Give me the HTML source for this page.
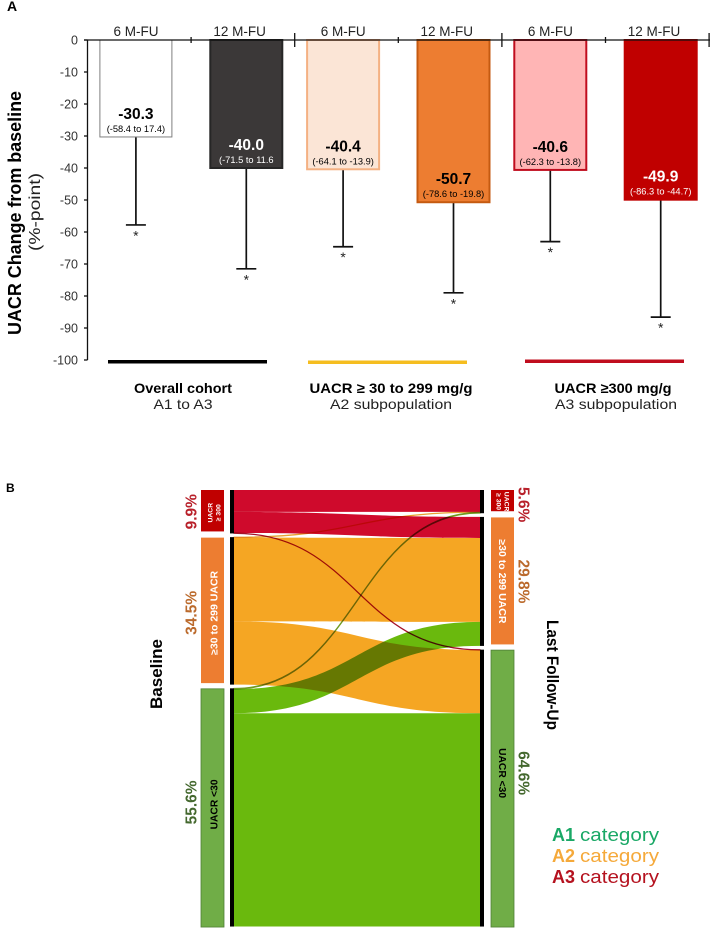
<!DOCTYPE html>
<html lang="en">
<head>
<meta charset="utf-8">
<title>UACR change chart</title>
<style>
html,body{margin:0;padding:0;background:#fff;width:710px;height:934px;overflow:hidden}
svg{display:block;font-family:"Liberation Sans","DejaVu Sans",sans-serif}
.tick-label{font-size:12.5px;fill:#333;text-anchor:end}
.group-label{font-size:13.5px;fill:#222;text-anchor:middle}
.axis{stroke:#111;stroke-width:1.3;fill:none}
.err{stroke:#111;stroke-width:1.7;fill:none}
.star{font-size:14px;fill:#222;text-anchor:middle}
.val{font-size:15.5px;font-weight:bold;text-anchor:middle}
.rng{font-size:9.3px;text-anchor:middle}
.dark{fill:#000}.light{fill:#fff}
.b0{fill:#fff;stroke:#7f7f7f;stroke-width:1}
.b1{fill:#3b3838;stroke:#262626;stroke-width:2}
.b2{fill:#fbe5d6;stroke:#f4b183;stroke-width:2}
.b3{fill:#ed7d31;stroke:#c55a11;stroke-width:2}
.b4{fill:#ffb5b5;stroke:#c00d1e;stroke-width:2}
.b5{fill:#c00000;stroke:#c00000;stroke-width:2}
.flow{mix-blend-mode:multiply}
.c0{fill:#cf0a2c;stroke:#a5122a}
.c1{fill:#f5a623;stroke:#e8a030}
.c2{fill:#6ab90d;stroke:#6f9a20}
.box0{fill:#c00000}.box1{fill:#ed7d31}.box2{fill:#70ad47;stroke:#4f7f35;stroke-width:.8}
.pct{font-size:15.5px;font-weight:bold;text-anchor:middle}
.p0{fill:#b8202a}.p1{fill:#bb6a2c}.p2{fill:#44682e}
.boxt{font-weight:bold;text-anchor:middle}
.big{font-weight:bold;fill:#000;text-anchor:middle}
.sub{fill:#222;text-anchor:middle}
.leg{font-size:18px}
</style>
</head>
<body>
<svg id="fig" width="710" height="934" viewBox="0 0 710 934" xmlns="http://www.w3.org/2000/svg">
  <rect width="710" height="934" fill="#fff"/>
  <text x="7" y="11" font-size="14" font-weight="bold">A</text>
  <text x="6" y="492" font-size="12" font-weight="bold">B</text>

  <text class="big" transform="translate(21,213) rotate(-90)" font-size="18" textLength="244" lengthAdjust="spacingAndGlyphs">UACR Change from baseline</text>
  <text class="sub" transform="translate(40,212) rotate(-90)" font-size="16" textLength="78" lengthAdjust="spacingAndGlyphs">(%-point)</text>

  <g id="barChart"></g>

  <rect x="108" y="360" width="159" height="3.5" fill="#000"/>
  <rect x="308" y="360.5" width="159" height="3.5" fill="#f5bd1f"/>
  <rect x="525" y="359.5" width="159" height="3.5" fill="#c00d1e"/>

  <text class="big" x="183" y="393" font-size="14" textLength="98" lengthAdjust="spacingAndGlyphs">Overall cohort</text>
  <text class="sub" x="183" y="409" font-size="14" textLength="59" lengthAdjust="spacingAndGlyphs">A1 to A3</text>
  <text class="big" x="391" y="393" font-size="14" textLength="163" lengthAdjust="spacingAndGlyphs">UACR ≥ 30  to 299 mg/g</text>
  <text class="sub" x="391" y="409" font-size="14" textLength="122" lengthAdjust="spacingAndGlyphs">A2 subpopulation</text>
  <text class="big" x="613" y="393" font-size="14" textLength="117" lengthAdjust="spacingAndGlyphs">UACR ≥300 mg/g</text>
  <text class="sub" x="616" y="409" font-size="14" textLength="122" lengthAdjust="spacingAndGlyphs">A3 subpopulation</text>

  <g id="sankey" style="isolation:isolate"></g>

  <text class="big" transform="translate(162,674) rotate(-90)" font-size="16.5" textLength="70" lengthAdjust="spacingAndGlyphs">Baseline</text>
  <text class="big" transform="translate(547,675) rotate(90)" font-size="16.5" textLength="110" lengthAdjust="spacingAndGlyphs">Last Follow-Up</text>

  <g class="leg">
    <text x="552" y="841" fill="#1aa866"><tspan font-weight="bold">A1</tspan><tspan x="580" textLength="79" lengthAdjust="spacingAndGlyphs">category</tspan></text>
    <text x="552" y="862" fill="#f5a93a"><tspan font-weight="bold">A2</tspan><tspan x="580" textLength="79" lengthAdjust="spacingAndGlyphs">category</tspan></text>
    <text x="552" y="883" fill="#b5121f"><tspan font-weight="bold">A3</tspan><tspan x="580" textLength="79" lengthAdjust="spacingAndGlyphs">category</tspan></text>
  </g>
</svg>
<script>
/* ---------- Panel A data ---------- */
var barCategories = ['6 M-FU','12 M-FU','6 M-FU','12 M-FU','6 M-FU','12 M-FU'];
var barValues = [-30.3,-40.0,-40.4,-50.7,-40.6,-49.9];
var errorEnds = [-57.8,-71.5,-64.6,-79,-63,-86.6];
var rangeLabels = ['(-58.4 to 17.4)','(-71.5 to 11.6','(-64.1 to -13.9)','(-78.6 to -19.8)','(-62.3 to -13.8)','(-86.3 to -44.7)'];
var yTicks = [0,-10,-20,-30,-40,-50,-60,-70,-80,-90,-100];
/* ---------- Panel B data (order: A3, A2, A1) ---------- */
var flowValues = [[5.1,4.9,0.1],[0.1,19.5,14.7],[0.2,5.6,49.6]];
var baselinePct = ['9.9%','34.5%','55.6%'];
var followPct = ['5.6%','29.8%','64.6%'];

var NS = 'http://www.w3.org/2000/svg';
function mk(tag, parent, attrs, text){
  var e = document.createElementNS(NS, tag);
  for (var k in attrs) e.setAttribute(k, attrs[k]);
  if (text !== undefined) e.textContent = text;
  parent.appendChild(e);
  return e;
}
/* axis functions */
function yA(v){ return 40 + (-v) * 3.2; }
function bandLeft(i){ return 87.5 + i * 103.6; }
function barCenter(i){ return bandLeft(i) + 51.8 + (i % 2 ? 3.4 : -3.4); }

var g = document.getElementById('barChart');
barValues.forEach(function(v, i){
  var cx = barCenter(i), el;
  el = mk('line', g, {x1:cx, x2:cx, y1:yA(v), y2:yA(errorEnds[i]), class:'err'});
  
  
  el = mk('line', g, {x1:cx-10, x2:cx+10, y1:yA(errorEnds[i]), y2:yA(errorEnds[i]), class:'err'});
  
  
  el = mk('text', g, {x:cx, y:yA(errorEnds[i])+15.5, class:'star'}, '*');
  
  
  el = mk('rect', g, {x:cx-36, y:yA(0), width:72, height:yA(v)-yA(0), class:'b'+i});
  
  
  var tone = (i === 1 || i === 5) ? 'light' : 'dark';
  el = mk('text', g, {x:cx, y:yA(v)-18, class:'val '+tone}, v.toFixed(1));
  
  
  el = mk('text', g, {x:cx, y:yA(v)-5, class:'rng '+tone}, rangeLabels[i]);
  
  
  el = mk('text', g, {x:bandLeft(i)+48.5, y:36, class:'group-label'}, barCategories[i]);
  
  
  el = mk('line', g, {x1:bandLeft(i+1), x2:bandLeft(i+1), y1:i%2?33:37, y2:i%2?47:43, class:'axis'});
  
  
});
var ax = mk('path', g, {d:'M84 '+yA(0)+'H710M87.5 '+yA(0)+'V'+yA(-100), class:'axis'});


yTicks.forEach(function(t){
  var el = mk('line', g, {x1:84, x2:87.5, y1:yA(t), y2:yA(t), class:'axis'});
  
  
  el = mk('text', g, {x:78, y:yA(t)+4.5, class:'tick-label'}, String(t));
  
  
});

/* ---------- Sankey ---------- */
var s = document.getElementById('sankey');
var pxPerPct = 4.3, sankeyTop = 490, nodeGap = 3.7, leftX = 234, rightX = 480;
function sum(a){ return a.reduce(function(p,c){ return p+c; }, 0); }
var leftTotals = flowValues.map(sum);
var rightTotals = [0,1,2].map(function(j){ return sum(flowValues.map(function(r){ return r[j]; })); });
function nodeTops(totals){
  var y = sankeyTop;
  return totals.map(function(t){ var r = y; y += t * pxPerPct + nodeGap; return r; });
}
var leftTops = nodeTops(leftTotals), rightTops = nodeTops(rightTotals);
function band(x0, x1, y0a, h0, y1a){
  var m = (x0 + x1) / 2;
  return 'M'+x0+' '+y0a+'C'+m+' '+y0a+' '+m+' '+y1a+' '+x1+' '+y1a+
         'V'+(y1a+h0)+'C'+m+' '+(y1a+h0)+' '+m+' '+(y0a+h0)+' '+x0+' '+(y0a+h0)+'Z';
}
var lc = leftTops.slice(), rc = rightTops.slice();
flowValues.forEach(function(row, i){
  row.forEach(function(val, j){
    var h = val * pxPerPct;
    var f = mk('path', s, {d:band(leftX, rightX, lc[i], h, rc[j]), class:'flow c'+i,
      'stroke-width': h < 2 ? 0.9 : 0});
    
    
    lc[i] += h; rc[j] += h;
  });
});
function drawNodes(tops, totals, barX, boxX, pcts, pctX, rot, side){
  tops.forEach(function(top, i){
    var h = totals[i] * pxPerPct, el;
    var inward = rot < 0 ? 1 : -1;
    el = mk('rect', s, {x:barX, y:top, width:4, height:h, fill:'#000'});
    
    
    el = mk('rect', s, {x:boxX, y:top+(i?0.5:0), width:23, height:h-(i<2?2:0), class:'box'+i});
    
    
    var cy = top + h/2, tx = boxX + 11.5;
    if (i === 0) {
      el = mk('text', s, {class:'boxt light', 'font-size':6.8, transform:'translate('+(tx+(rot<0?0:2))+','+(cy+(rot<0?1:0))+') rotate('+rot+')'}, 'UACR');
      
      
      el = mk('text', s, {class:'boxt light', 'font-size':6.8, transform:'translate('+(tx+(rot<0?8:-6))+','+(cy+(rot<0?1:0))+') rotate('+rot+')'}, '≥ 300');
      
      
    } else if (i === 1) {
      el = mk('text', s, {class:'boxt light', 'font-size':10, textLength:84, lengthAdjust:'spacingAndGlyphs', transform:'translate('+(tx+(rot<0?5:-3.5))+','+(cy+(rot<0?2:0))+') rotate('+rot+')'}, '≥30 to 299 UACR');
      
      
    } else {
      el = mk('text', s, {class:'boxt dark', 'font-size':10, textLength:50, lengthAdjust:'spacingAndGlyphs', transform:'translate('+(tx+(rot<0?5:-3.5))+','+(cy+(rot<0?-3:-15))+') rotate('+rot+')'}, 'UACR <30');
      
      
    }
    var py = cy + (i===2 ? (rot<0?-5:-15) : 0) + (i===1 && rot<0 ? 2 : 0) + (i===0 && rot>0 ? 3 : 0);
    el = mk('text', s, {class:'pct p'+i, transform:'translate('+pctX+','+py+') rotate('+rot+')'}, pcts[i]);
    
    
  });
}
drawNodes(leftTops, leftTotals, 230, 201, baselinePct, 196.5, -90, 'baseline');
drawNodes(rightTops, rightTotals, 480, 491, followPct, 518.5, 90, 'follow-up');
</script>
</body>
</html>
